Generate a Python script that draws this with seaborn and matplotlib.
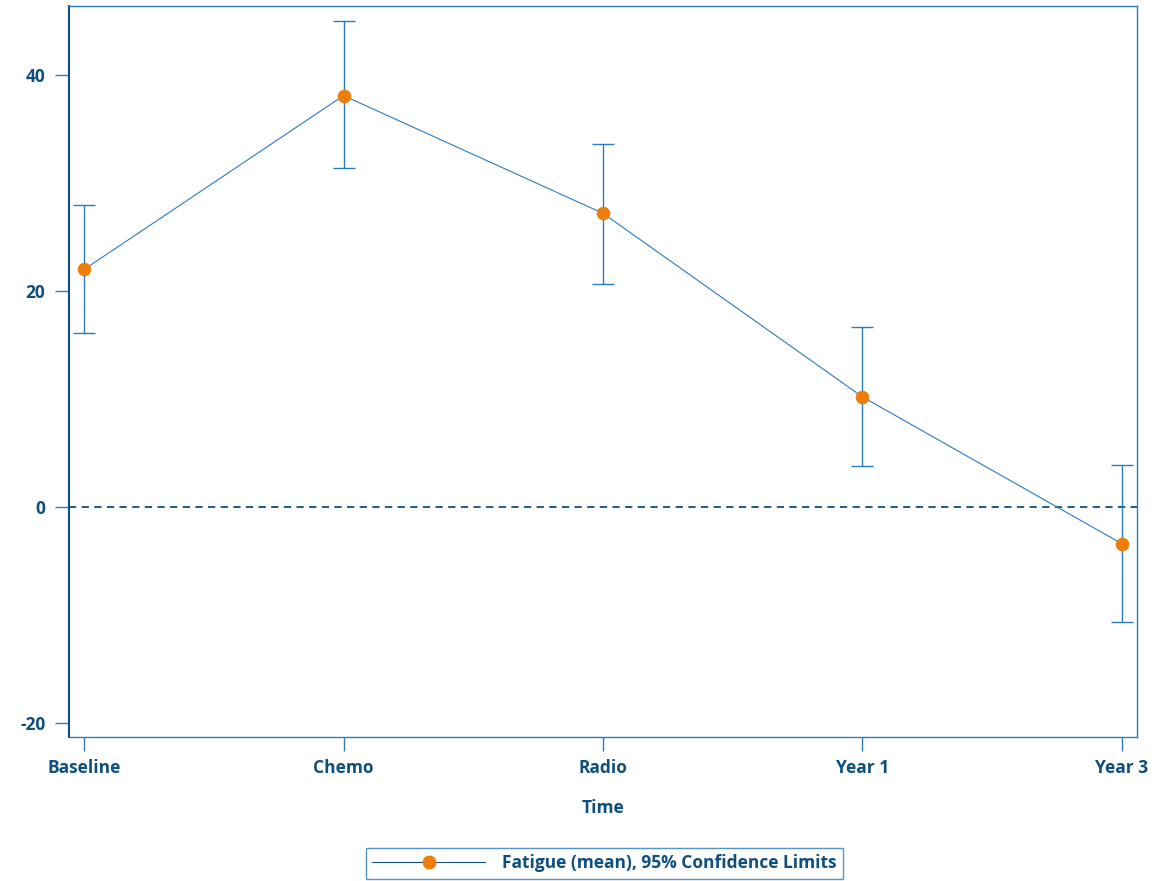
import pandas as pd
import matplotlib
matplotlib.use('Agg')
import matplotlib.pyplot as plt
import seaborn as sns
from matplotlib.lines import Line2D

# Data
times = ['Baseline', 'Chemo', 'Radio', 'Year 1', 'Year 3']
fatigue_mean = [22.0, 38.1, 27.2, 10.2, -3.4]
ci_lower = [16.1, 31.4, 20.7, 3.8, -10.6]
ci_upper = [28.0, 45.0, 33.6, 16.7, 3.9]

df = pd.DataFrame({'pos': range(len(times)), 'Time': times,
                   'mean': fatigue_mean, 'lo': ci_lower, 'hi': ci_upper})

navy = '#0e4f7f'
line_blue = '#2b7bbf'
orange = '#ee7d0a'

sns.set_style('white')
plt.rcParams['font.family'] = ['Open Sans', 'DejaVu Sans']
plt.rcParams['axes.unicode_minus'] = False

fig = plt.figure(figsize=(11.76, 8.81), dpi=100)
ax = fig.add_axes([0.0587, 0.1634, 0.9081, 0.8298])

# confidence limits
ax.errorbar(df['pos'], df['mean'],
            yerr=[df['mean'] - df['lo'], df['hi'] - df['mean']],
            fmt='none', ecolor=line_blue, elinewidth=1.0, capsize=8, capthick=1.0, zorder=2)

sns.lineplot(data=df, x='pos', y='mean', ax=ax, color=line_blue, linewidth=0.8,
             marker='o', markersize=9, markerfacecolor=orange, markeredgecolor=orange,
             zorder=3)

ax.axhline(0, color=navy, linestyle=(0, (4, 3)), linewidth=1.3, zorder=1)

ax.set_xlim(-0.058, 4.058)
ax.set_ylim(-21.3, 46.4)
ax.set_xticks(df['pos'])
ax.set_xticklabels(times)
ax.set_yticks([-20, 0, 20, 40])

for lab in ax.get_xticklabels() + ax.get_yticklabels():
    lab.set_fontweight('bold')
    lab.set_color(navy)
    lab.set_fontsize(12.5)

ax.tick_params(axis='both', direction='out', length=10, width=1, color=line_blue,
               bottom=True, left=True, pad=6)
ax.tick_params(axis='y', pad=7)
ax.set_xlabel('Time', fontsize=12.5, fontweight='bold', color=navy, labelpad=16)
ax.set_ylabel('')

for side in ['top', 'right', 'bottom']:
    ax.spines[side].set_color(line_blue)
    ax.spines[side].set_linewidth(1.0)
ax.spines['left'].set_color(navy)
ax.spines['left'].set_linewidth(1.5)

handle = Line2D([0], [0], color=navy, linewidth=0.8, marker='o', markersize=9,
                markerfacecolor=orange, markeredgecolor=orange)
leg = fig.legend([handle], ['Fatigue (mean), 95% Confidence Limits'],
                 loc='upper center', bbox_to_anchor=(0.514, 0.037),
                 frameon=True, fancybox=False, handlelength=6.5, handletextpad=1.0,
                 borderpad=0.35, borderaxespad=0,
                 prop={'weight': 'bold', 'size': 12.5})
leg.get_frame().set_edgecolor(line_blue)
leg.get_frame().set_linewidth(1.0)
for t in leg.get_texts():
    t.set_color(navy)

fig.savefig('out.png', dpi=100)
